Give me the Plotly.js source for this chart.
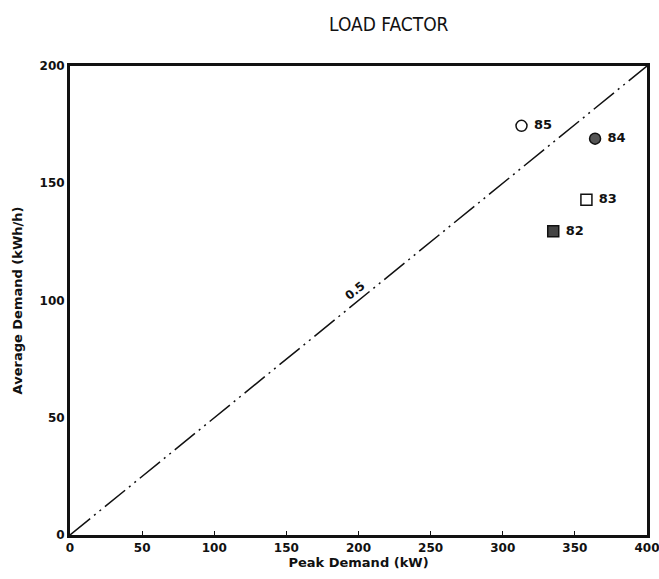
<!DOCTYPE html>
<html>
<head>
<meta charset="utf-8">
<script src="https://cdn.plot.ly/plotly-3.0.1.min.js"></script>
<style>html,body{margin:0;padding:0;background:#fff;}#chart{width:659px;height:579px;}</style>
</head>
<body>
<div id="chart"></div>
<script>
// Data
const years = ["85", "84", "83", "82"];
const peakDemand = [313, 364, 358, 335];      // kW
const avgDemand = [174.5, 169, 143, 129.5];   // kWh/h
const symbols = ["circle-open", "circle", "square-open", "square"];
const markerColors = ["#111", "#555", "#111", "#444"];
const loadFactorX = [0, 400];
const loadFactorY = [0, 200];
const loadFactorLabel = "0.5";
const xTicks = [0, 50, 100, 150, 200, 250, 300, 350, 400];
const yTicks = [0, 50, 100, 150, 200];

const font = "DejaVu Sans, Liberation Sans, sans-serif";

const traces = [
  {
    x: loadFactorX, y: loadFactorY, mode: "lines", type: "scatter",
    line: {color: "#111", width: 1.5, dash: "26px,5px,2px,5px,2px,5px"},
    hoverinfo: "skip", showlegend: false, cliponaxis: false
  }
];
years.forEach((yr, i) => {
  traces.push({
    x: [peakDemand[i]], y: [avgDemand[i]], mode: "markers+text", type: "scatter",
    text: [yr], texttemplate: " %{text}", textposition: "middle right",
    textfont: {family: font, size: 13, color: "#111", weight: "bold"},
    marker: {symbol: symbols[i], size: 11, color: markerColors[i],
             line: {color: "#111", width: 1.5}},
    showlegend: false
  });
});

const layout = {
  width: 659, height: 579,
  margin: {l: 70, r: 12, t: 66, b: 44},
  paper_bgcolor: "#fff", plot_bgcolor: "#fff",
  title: {text: "LOAD FACTOR", x: 0.59, xanchor: "center", y: 0.97, yanchor: "top",
          font: {family: "Liberation Sans Narrow, DejaVu Sans Condensed, sans-serif", size: 19, color: "#111"}},
  xaxis: {
    range: [0, 400], tickvals: xTicks, ticktext: xTicks.map(String),
    showgrid: false, zeroline: false, showline: true, mirror: true,
    linecolor: "#111", linewidth: 3, ticks: "inside", ticklen: 4, tickcolor: "#111",
    ticklabeloverflow: "allow",
    tickfont: {family: font, size: 12, color: "#111", weight: "bold"},
    title: {text: "Peak Demand (kW)", standoff: 4, font: {family: font, size: 13, color: "#111", weight: "bold"}},
    fixedrange: true
  },
  yaxis: {
    range: [0, 200], tickvals: yTicks, ticktext: yTicks.map(String),
    showgrid: false, zeroline: false, showline: true, mirror: true,
    linecolor: "#111", linewidth: 3, ticks: "", ticklen: 4,
    tickfont: {family: font, size: 12, color: "#111", weight: "bold"},
    title: {text: "Average Demand (kWh/h)", standoff: 14, font: {family: font, size: 13, color: "#111", weight: "bold"}},
    fixedrange: true
  },
  annotations: [{
    x: 200, y: 100, xref: "x", yref: "y", text: loadFactorLabel, showarrow: false,
    textangle: -39, yshift: 10, xshift: -4,
    font: {family: font, size: 12, color: "#111", weight: "bold"}
  }]
};

Plotly.newPlot("chart", traces, layout, {displayModeBar: false, staticPlot: true});
</script>
</body>
</html>
